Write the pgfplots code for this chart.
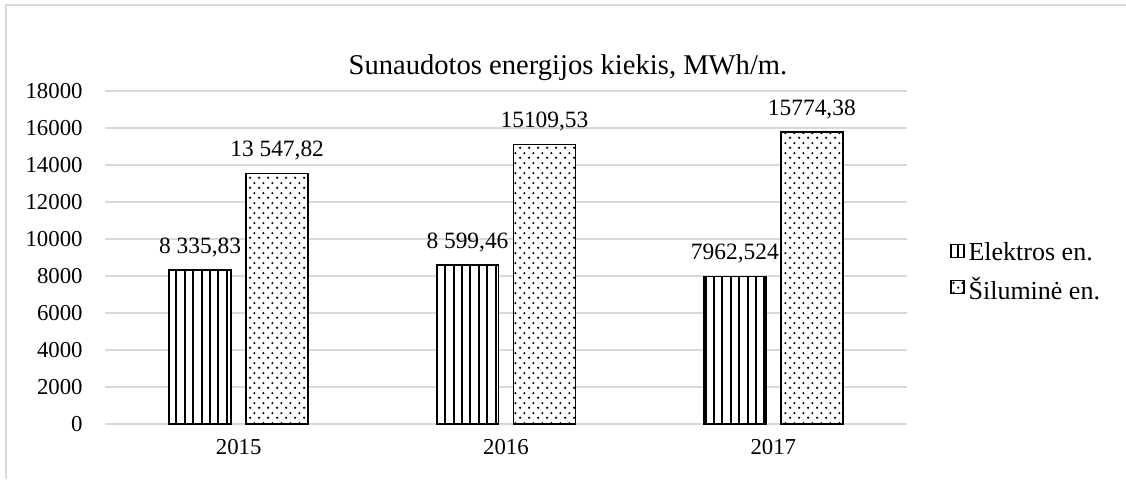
\documentclass[border=0pt]{standalone}
\usepackage{fontspec}
\setmainfont{Liberation Serif}
\usepackage{pgfplots}
\pgfplotsset{compat=1.18}
\usetikzlibrary{patterns.meta}

\definecolor{gridgray}{HTML}{D9D9D9}

% staggered dots like the Excel 5% pattern
\tikzdeclarepattern{
  name=sdots, type=uncolored,
  bounding box={(0pt,0pt) and (4.6pt,5pt)},
  tile size={(4.6pt,5pt)},
  code={
    \fill (1.15pt,1.25pt) circle (0.65pt);
    \fill (3.45pt,3.75pt) circle (0.65pt);
  }
}

\begin{document}
\begin{tikzpicture}
\useasboundingbox (0pt,0pt) rectangle (563pt,239.5pt);
\draw[gridgray, line width=0.75pt] (3pt,0pt) -- (3pt,237pt) -- (563pt,237pt);

\begin{axis}[
    at={(52.5pt,27.5pt)}, anchor=south west,
    scale only axis,
    width=401pt, height=166.5pt,
    xmin=-0.5, xmax=2.5,
    ymin=0, ymax=18000,
    xtick={0,1,2},
    xticklabels={2015,2016,2017},
    ytick={0,2000,...,18000},
    scaled y ticks=false,
    /pgf/number format/assume math mode=true,
    /pgf/number format/1000 sep={},
    ticklabel style={font=\fontsize{11.4}{13}\selectfont},
    yticklabel style={anchor=east, inner sep=0pt, xshift=-11pt},
    xticklabel style={anchor=north, inner sep=0pt, yshift=-7.5pt},
    major tick length=0pt,
    axis line style={draw=none},
    ymajorgrids,
    grid style={draw=gridgray, line width=0.75pt},
    ybar=7.5pt, bar width=31pt,
    clip=false,
    nodes near coords,
    point meta=explicit symbolic,
    nodes near coords style={font=\fontsize{11.7}{14}\selectfont, anchor=south,
        inner sep=0pt, text depth=0pt, yshift=8pt},
    title={Sunaudotos energijos kiekis, MWh/m.},
    title style={at={(0.5773,1.015)}, anchor=base, inner sep=0pt,
        font=\fontsize{14.3}{17}\selectfont},
    legend image code/.code={
        \draw[#1, line width=0.6pt] (0pt,-2pt) rectangle (6.5pt,4.5pt);
    },
    legend style={at={(1.0536,0.455)}, anchor=west, draw=none, fill=none,
        inner sep=0pt, row sep=2.5pt,
        font=\fontsize{13}{15}\selectfont},
    legend cell align=left,
]
\addplot[draw=black, line width=0.75pt, fill=white,
    postaction={pattern={Lines[angle=90, distance=4.2pt, line width=1pt]}}]
    coordinates {
    (0,8335.83) [8 335,83]
    (1,8599.46) [8 599,46]
    (2,7962.524) [7962,524]
};
\addlegendentry{Elektros en.}

\addplot[draw=black, line width=0.75pt, fill=white,
    postaction={pattern=sdots}]
    coordinates {
    (0,13547.82) [13 547,82]
    (1,15109.53) [15109,53]
    (2,15774.38) [15774,38]
};
\addlegendentry{Šiluminė en.}
\end{axis}
\end{tikzpicture}
\end{document}
